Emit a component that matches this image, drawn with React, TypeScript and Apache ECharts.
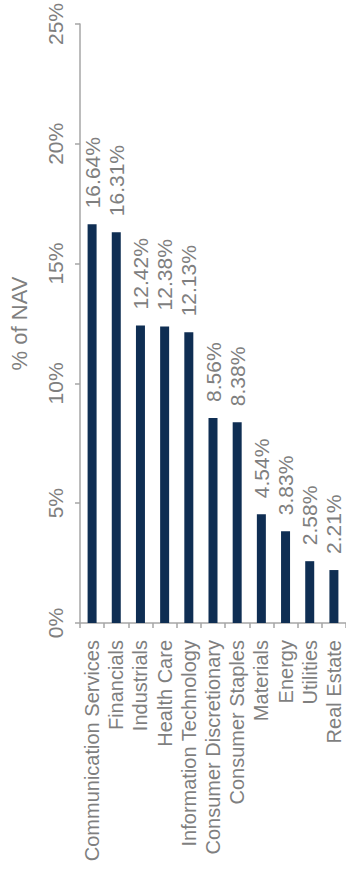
import React, { useEffect, useRef } from "react";
import * as echarts from "echarts";

const categories = [
  "Communication Services",
  "Financials",
  "Industrials",
  "Health Care",
  "Information Technology",
  "Consumer Discretionary",
  "Consumer Staples",
  "Materials",
  "Energy",
  "Utilities",
  "Real Estate",
];
const values = [16.64, 16.31, 12.42, 12.38, 12.13, 8.56, 8.38, 4.54, 3.83, 2.58, 2.21];
const yTicks = { min: 0, max: 25, interval: 5 };
const axisName = "% of NAV";

const FONT = "'Liberation Sans', Arial, sans-serif";
const TEXT = "#7f7f7f";
const AXIS = "#a6a6a6";

export default function App() {
  const ref = useRef<HTMLDivElement>(null);
  useEffect(() => {
    if (!ref.current) return;
    const chart = echarts.init(ref.current, undefined, { renderer: "svg" });
    chart.setOption({
      animation: false,
      textStyle: { fontFamily: FONT },
      grid: { left: 76, right: 0, top: 23, bottom: 267, containLabel: false },
      xAxis: {
        type: "category",
        data: categories,
        axisLine: { show: true, lineStyle: { color: AXIS, width: 1.5 } },
        axisTick: { show: true, length: 5, lineStyle: { color: AXIS, width: 1.5 } },
        axisLabel: {
          rotate: 90,
          margin: 17,
          color: TEXT,
          fontSize: 20,
          fontFamily: FONT,
          interval: 0,
        },
      },
      yAxis: {
        type: "value",
        min: yTicks.min,
        max: yTicks.max,
        interval: yTicks.interval,
        name: axisName,
        nameLocation: "middle",
        nameRotate: 90,
        nameGap: 50,
        nameTextStyle: { color: TEXT, fontSize: 22, fontFamily: FONT },
        splitLine: { show: false },
        axisLine: { show: true, lineStyle: { color: AXIS, width: 1.5 } },
        axisTick: { show: true, length: 5, lineStyle: { color: AXIS, width: 1.5 } },
        axisLabel: {
          rotate: 90,
          margin: 14,
          color: TEXT,
          fontSize: 21,
          fontFamily: FONT,
          formatter: (v: number) => v + "%",
        },
      },
      series: [
        {
          type: "bar",
          data: values,
          barWidth: 9,
          itemStyle: { color: "#0f2e53" },
          label: {
            show: true,
            position: "top",
            rotate: 90,
            align: "left",
            verticalAlign: "middle",
            distance: 16,
            color: TEXT,
            fontSize: 21,
            fontFamily: FONT,
            formatter: (p: any) => p.value.toFixed(2) + "%",
          },
        },
      ],
    });
    return () => chart.dispose();
  }, []);
  return (
    <div
      ref={ref}
      style={{ position: "fixed", left: 0, top: 0, width: 346, height: 890, background: "#fff" }}
    />
  );
}
